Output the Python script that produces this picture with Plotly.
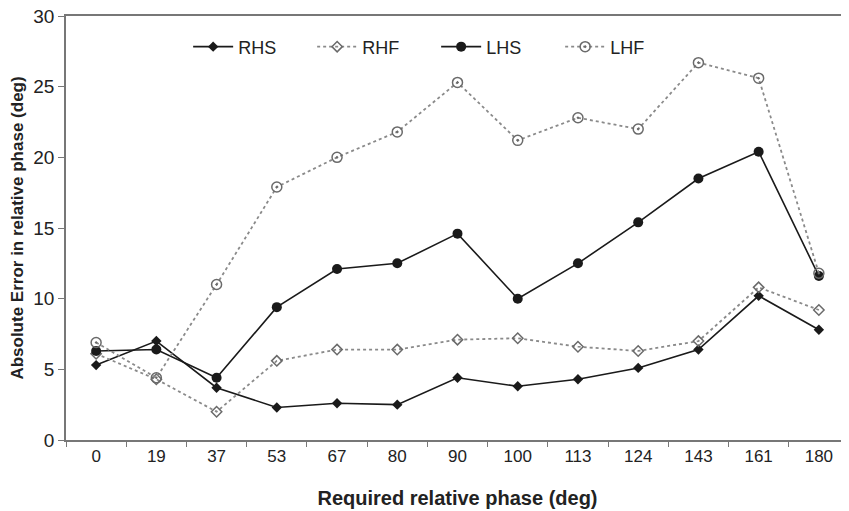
import plotly.graph_objects as go

phases = ["0", "19", "37", "53", "67", "80", "90", "100", "113", "124", "143", "161", "180"]
rhs = [5.3, 7.0, 3.7, 2.3, 2.6, 2.5, 4.4, 3.8, 4.3, 5.1, 6.4, 10.2, 7.8]
rhf = [6.1, 4.3, 2.0, 5.6, 6.4, 6.4, 7.1, 7.2, 6.6, 6.3, 7.0, 10.8, 9.2]
lhs = [6.3, 6.4, 4.4, 9.4, 12.1, 12.5, 14.6, 10.0, 12.5, 15.4, 18.5, 20.4, 11.6]
lhf = [6.9, 4.4, 11.0, 17.9, 20.0, 21.8, 25.3, 21.2, 22.8, 22.0, 26.7, 25.6, 11.8]

y_ticks = [0, 5, 10, 15, 20, 25, 30]

fig = go.Figure()
fig.add_trace(go.Scatter(x=phases, y=rhs, name="RHS", mode="lines+markers",
                         line=dict(color="#1a1a1a", width=1.6),
                         marker=dict(symbol="diamond", size=8, color="#1a1a1a")))
fig.add_trace(go.Scatter(x=phases, y=rhf, name="RHF", mode="lines+markers",
                         line=dict(color="#8a8a8a", width=1.8, dash="dot"),
                         marker=dict(symbol="diamond-open", size=8, color="#6a6a6a",
                                     line=dict(width=1.5, color="#6a6a6a"))))
fig.add_trace(go.Scatter(x=phases, y=lhs, name="LHS", mode="lines+markers",
                         line=dict(color="#1a1a1a", width=1.6),
                         marker=dict(symbol="circle", size=10, color="#1a1a1a")))
fig.add_trace(go.Scatter(x=phases, y=lhf, name="LHF", mode="lines+markers",
                         line=dict(color="#8a8a8a", width=1.8, dash="dot"),
                         marker=dict(symbol="circle-open-dot", size=10, color="#6a6a6a",
                                     line=dict(width=1.5, color="#6a6a6a"))))

fig.update_layout(
    width=841, height=503,
    margin=dict(l=58, r=0, t=8, b=71),
    paper_bgcolor="white", plot_bgcolor="white",
    font=dict(family="Liberation Sans, Arial, sans-serif", size=17, color="#222"),
    showlegend=True,
    legend=dict(orientation="h", x=0.156, y=0.927, xanchor="left", yanchor="middle",
                font=dict(size=18), bgcolor="rgba(0,0,0,0)",
                entrywidth=69, entrywidthmode="pixels", itemwidth=40),
)
fig.update_xaxes(
    type="category", range=[-0.5, 12.5], showgrid=False, showline=True,
    linecolor="#777", linewidth=1.5, mirror=True, ticks="outside",
    tickson="boundaries", ticklen=5, tickcolor="#777", automargin=False,
    tickfont=dict(size=17), ticklabeloverflow="allow",
    title=dict(text="<b>Required relative phase (deg)</b>", font=dict(size=20), standoff=26),
    zeroline=False,
)
fig.update_yaxes(
    range=[0, 30], tickvals=y_ticks, showgrid=False, showline=True, linecolor="#777",
    linewidth=1.5, ticks="outside", ticklen=6, tickcolor="#777", zeroline=False,
    automargin=False, tickfont=dict(size=19), ticklabeloverflow="allow",
    title=dict(text="<b>Absolute Error in relative phase (deg)</b>", font=dict(size=17), standoff=12),
)

fig.write_html("out.html")
